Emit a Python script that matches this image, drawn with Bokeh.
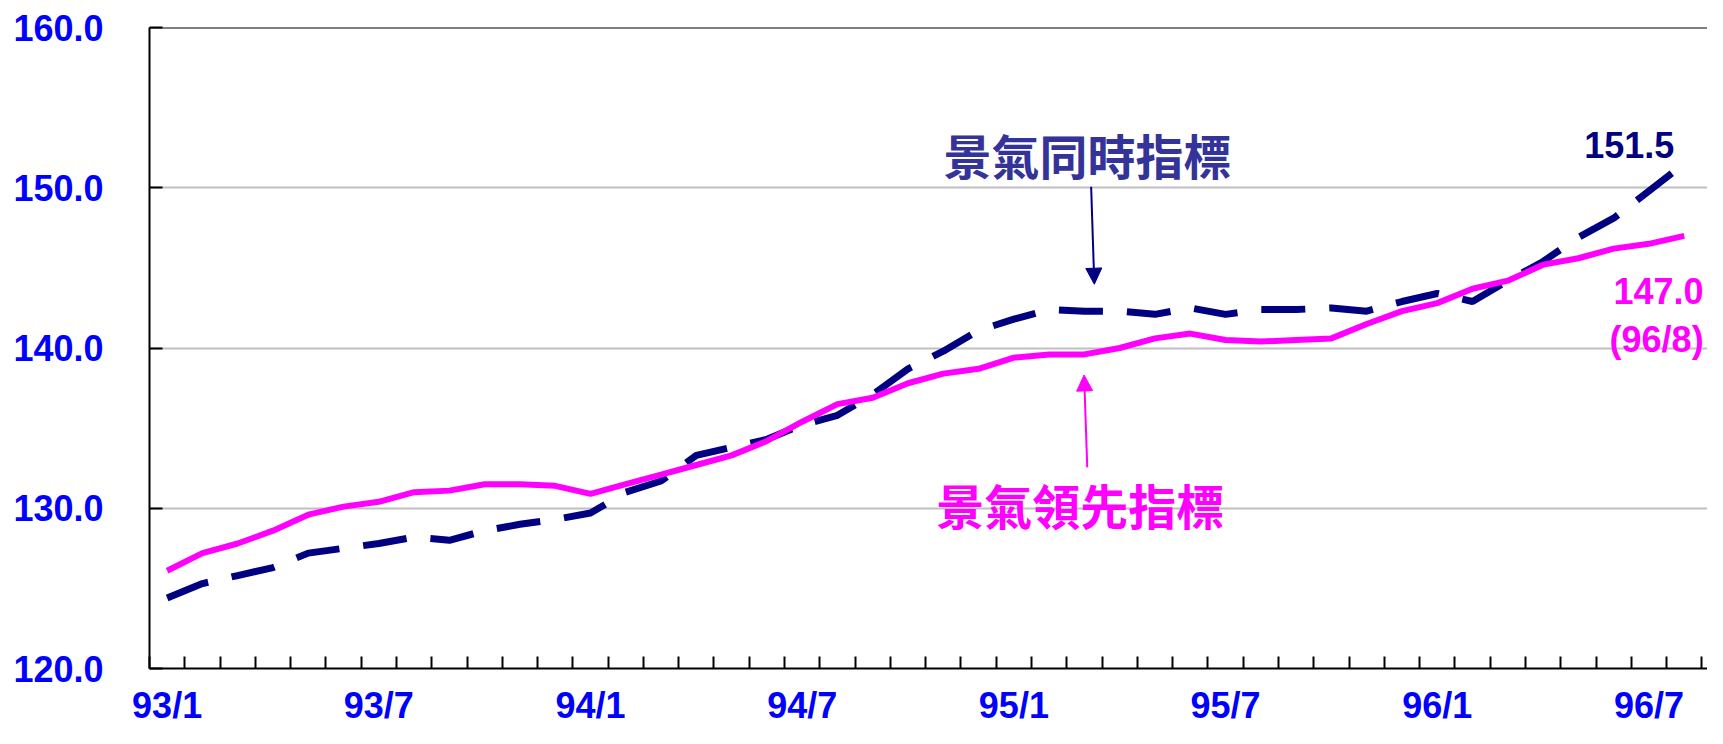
from bokeh.plotting import figure
from bokeh.models import Range1d, FixedTicker, LinearAxis, Arrow, NormalHead, PrintfTickFormatter
from bokeh.core.properties import value
from bokeh.embed import file_html
from bokeh.resources import INLINE

# ---- data ----
months = ["93/1", "93/2", "93/3", "93/4", "93/5", "93/6", "93/7", "93/8", "93/9", "93/10", "93/11", "93/12",
          "94/1", "94/2", "94/3", "94/4", "94/5", "94/6", "94/7", "94/8", "94/9", "94/10", "94/11", "94/12",
          "95/1", "95/2", "95/3", "95/4", "95/5", "95/6", "95/7", "95/8", "95/9", "95/10", "95/11", "95/12",
          "96/1", "96/2", "96/3", "96/4", "96/5", "96/6", "96/7", "96/8"]
leading = [126.1, 127.2, 127.8, 128.6, 129.6, 130.1, 130.4, 131.0, 131.1, 131.5, 131.5, 131.4,
           130.9, 131.5, 132.1, 132.7, 133.3, 134.2, 135.4, 136.5, 136.9, 137.8, 138.4, 138.7,
           139.4, 139.6, 139.6, 140.0, 140.6, 140.9, 140.5, 140.4, 140.5, 140.6, 141.5, 142.3,
           142.8, 143.7, 144.2, 145.2, 145.6, 146.2, 146.5, 147.0]
coincident = [124.4, 125.3, 125.8, 126.3, 127.2, 127.5, 127.8, 128.2, 128.0, 128.6, 129.0, 129.3,
              129.7, 131.0, 131.7, 133.3, 133.8, 134.3, 135.2, 135.8, 137.1, 138.7, 139.8, 141.1,
              141.8, 142.4, 142.3, 142.3, 142.1, 142.5, 142.1, 142.4, 142.4, 142.5, 142.3, 142.9,
              143.4, 142.9, 144.2, 145.4, 146.9, 148.1, 149.8, 151.5]
y_ticks = [120, 130, 140, 150, 160]
grid_ticks = [130, 140, 150]
x_label_months = ["93/1", "93/7", "94/1", "94/7", "95/1", "95/7", "96/1", "96/7"]
coincident_name = "景氣同時指標"
leading_name = "景氣領先指標"
end_label_coincident = "151.5"
end_label_leading = "147.0"
end_label_date = "(96/8)"

NAVY = "#000080"
MAGENTA = "#FF00FF"
BLUE = "#0000FF"
NUM_FONT = value("Liberation Sans")
CJK_FONT = value("Noto Sans CJK TC")

x = list(range(len(months)))
Y_MIN, Y_MAX = y_ticks[0], y_ticks[-1]

p = figure(width=1707, height=728, output_backend="svg", toolbar_location=None,
           x_range=Range1d(-0.5, 43.66), y_range=Range1d(Y_MIN, Y_MAX),
           min_border_left=149, min_border_right=0, min_border_top=27, min_border_bottom=58,
           x_axis_location=None, y_axis_location="left")
p.outline_line_color = None
p.background_fill_color = "white"
p.border_fill_color = "white"
p.xgrid.visible = False

# y axis
yax = p.yaxis[0]
yax.ticker = FixedTicker(ticks=y_ticks)
yax.formatter = PrintfTickFormatter(format="%.1f")
yax.major_tick_in = 13
yax.major_tick_out = 0
yax.major_tick_line_width = 2
yax.minor_tick_line_color = None
yax.axis_line_width = 2
yax.major_label_standoff = 46
yax.major_label_text_font = "Liberation Sans"
yax.major_label_text_font_style = "bold"
yax.major_label_text_font_size = "36px"
yax.major_label_text_color = BLUE

p.ygrid.ticker = FixedTicker(ticks=grid_ticks)
p.ygrid.grid_line_color = "#C0C0C0"
p.ygrid.grid_line_width = 2

# x axis (category style: labels at month centres, ticks at month boundaries)
major = [months.index(m) for m in x_label_months]
minor = [i - 0.5 for i in range(len(months) + 1)]
xax = LinearAxis(ticker=FixedTicker(ticks=major, minor_ticks=minor),
                 major_label_overrides={i: months[i] for i in major})
xax.major_tick_line_color = None
xax.major_tick_in = 0
xax.major_tick_out = 0
xax.minor_tick_in = 12
xax.minor_tick_out = 0
xax.minor_tick_line_width = 2
xax.minor_tick_line_color = "black"
xax.axis_line_width = 2
xax.major_label_standoff = 16
xax.major_label_text_font = "Liberation Sans"
xax.major_label_text_font_style = "bold"
xax.major_label_text_font_size = "36px"
xax.major_label_text_color = BLUE
p.add_layout(xax, "below")

# top frame line
top = LinearAxis(ticker=FixedTicker(ticks=[]), fixed_location=Y_MAX,
                 major_tick_line_color=None, minor_tick_line_color=None,
                 major_label_text_font_size="0px", axis_line_width=2)
p.add_layout(top, "above")

# series
p.line(x, coincident, line_color=NAVY, line_width=7, line_dash="44 24")
p.line(x, leading, line_color=MAGENTA, line_width=6)

# annotations
p.text(x=[26.09], y=[152.1], text=[coincident_name], text_font=CJK_FONT, text_font_style="bold",
       text_font_size="48px", text_color="#333399", text_align="center", text_baseline="middle")
p.text(x=[25.88], y=[130.28], text=[leading_name], text_font=CJK_FONT, text_font_style="bold",
       text_font_size="48px", text_color=MAGENTA, text_align="center", text_baseline="middle")

p.add_layout(Arrow(end=NormalHead(size=16, fill_color=NAVY, line_color=NAVY),
                   x_start=26.19, y_start=150.06, x_end=26.28, y_end=143.98,
                   line_color=NAVY, line_width=2))
p.add_layout(Arrow(end=NormalHead(size=16, fill_color=MAGENTA, line_color=MAGENTA),
                   x_start=26.08, y_start=132.55, x_end=25.99, y_end=138.32,
                   line_color=MAGENTA, line_width=2))

last = len(months) - 1
p.text(x=[last - 1.56], y=[152.67], text=[end_label_coincident], text_font=NUM_FONT, text_font_style="bold",
       text_font_size="36px", text_color=NAVY, text_align="center", text_baseline="alphabetic")
p.text(x=[last + 0.55], y=[143.54], text=[end_label_leading], text_font=NUM_FONT, text_font_style="bold",
       text_font_size="36px", text_color=MAGENTA, text_align="right", text_baseline="alphabetic")
p.text(x=[last + 0.55], y=[140.56], text=[end_label_date], text_font=NUM_FONT, text_font_style="bold",
       text_font_size="36px", text_color=MAGENTA, text_align="right", text_baseline="alphabetic")

open("out.html", "w").write(file_html(p, INLINE))
